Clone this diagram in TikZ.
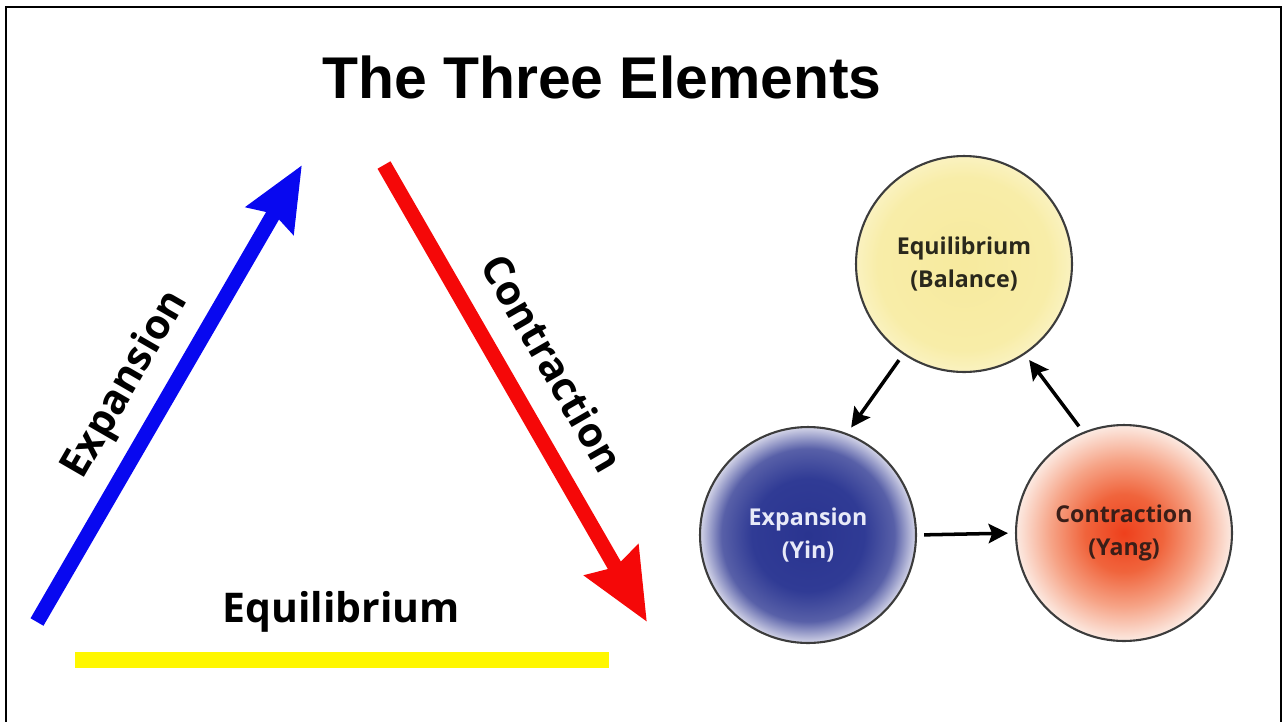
\documentclass[tikz,border=0pt]{standalone}
\usepackage{xcolor}
\usepackage{fontspec}
\usetikzlibrary{arrows.meta}
\setmainfont{Open Sans}
\newfontfamily\titlefont{Liberation Sans}

\definecolor{expblue}{RGB}{8,8,240}
\definecolor{conred}{RGB}{245,8,8}
\definecolor{eqyellow}{RGB}{255,247,0}
\definecolor{ringgray}{RGB}{60,60,60}
\definecolor{baltext}{RGB}{42,40,28}
\definecolor{yintext}{RGB}{232,234,248}
\definecolor{yangtext}{RGB}{58,30,24}

\pgfdeclareradialshading{balshade}{\pgfpoint{0bp}{0bp}}{color(0bp)=(rgb,255:red,247;green,234;blue,158);
    color(20bp)=(rgb,255:red,248;green,237;blue,168); color(25bp)=(rgb,255:red,250;green,242;blue,192);
    color(50bp)=(rgb,255:red,250;green,242;blue,192)}
\pgfdeclareradialshading{yinshade}{\pgfpoint{0bp}{0bp}}{color(0bp)=(rgb,255:red,42;green,52;blue,144);
    color(13bp)=(rgb,255:red,48;green,59;blue,149); color(20bp)=(rgb,255:red,88;green,96;blue,168);
    color(25bp)=(rgb,255:red,212;green,213;blue,232); color(50bp)=(rgb,255:red,212;green,213;blue,232)}
\pgfdeclareradialshading{yangshade}{\pgfpoint{0bp}{0bp}}{color(0bp)=(rgb,255:red,238;green,64;blue,28);
    color(9bp)=(rgb,255:red,240;green,100;blue,60); color(17bp)=(rgb,255:red,246;green,163;blue,134);
    color(25bp)=(rgb,255:red,252;green,234;blue,226); color(50bp)=(rgb,255:red,252;green,234;blue,226)}

\begin{document}
\begin{tikzpicture}[x=0.02cm, y=-0.02cm,
        bigarrow/.style={line width=8.5pt},
        biglabel/.style={font=\fontsize{23.3}{27}\selectfont\bfseries},
        ring/.style={circle, draw=ringgray, line width=1.2pt, minimum size=4.32cm, inner sep=0pt,
            align=center, font=\fontsize{13.2}{18.5}\selectfont\bfseries},
        cyc/.style={-{Stealth[length=11pt, width=11pt, inset=2pt]}, line width=2pt,
            shorten <=4pt, shorten >=4pt}]
    \useasboundingbox (0,0) rectangle (1284,721);
    \draw[line width=1.4pt] (6,7) rectangle (1281,740);

    \node[font=\titlefont\fontsize{33.5}{40}\selectfont\bfseries] (title) at (602,77) {The Three Elements};

    % left: the triangle of arrows
    \coordinate (exptail) at (37,622);
    \coordinate (exptip) at (302,165);
    \coordinate (contail) at (384,165);
    \coordinate (contip) at (647,622);
    \coordinate (barleft) at (75,660);
    \coordinate (barright) at (609,660);

    \draw[bigarrow, expblue, -{Stealth[length=36pt, width=30pt, inset=4pt]}] (exptail) -- (exptip);
    \draw[bigarrow, conred, -{Stealth[length=40pt, width=34pt, inset=4pt]}] (contail) -- (contip);
    \draw[line width=9pt, eqyellow] (barleft) -- (barright);

    \node[biglabel, rotate=60] (explabel) at (126,385) {Expansion};
    \node[biglabel, rotate=-60] (conlabel) at (553,363) {Contraction};
    \node[biglabel] (eqlabel) at (341,612) {Equilibrium};

    % right: the cycle
    \node[ring, shading=balshade, text=baltext] (bal) at (964,264) {Equilibrium\\(Balance)};
    \node[ring, shading=yinshade, text=yintext] (yin) at (808,535) {Expansion\\(Yin)};
    \node[ring, shading=yangshade, text=yangtext] (yang) at (1124,533) {Contraction\\(Yang)};

    \draw[cyc] (bal.236) -- (yin.69);
    \draw[cyc] (yin.0) -- (yang.180);
    \draw[cyc] (yang.112) -- (bal.304);
\end{tikzpicture}
\end{document}
